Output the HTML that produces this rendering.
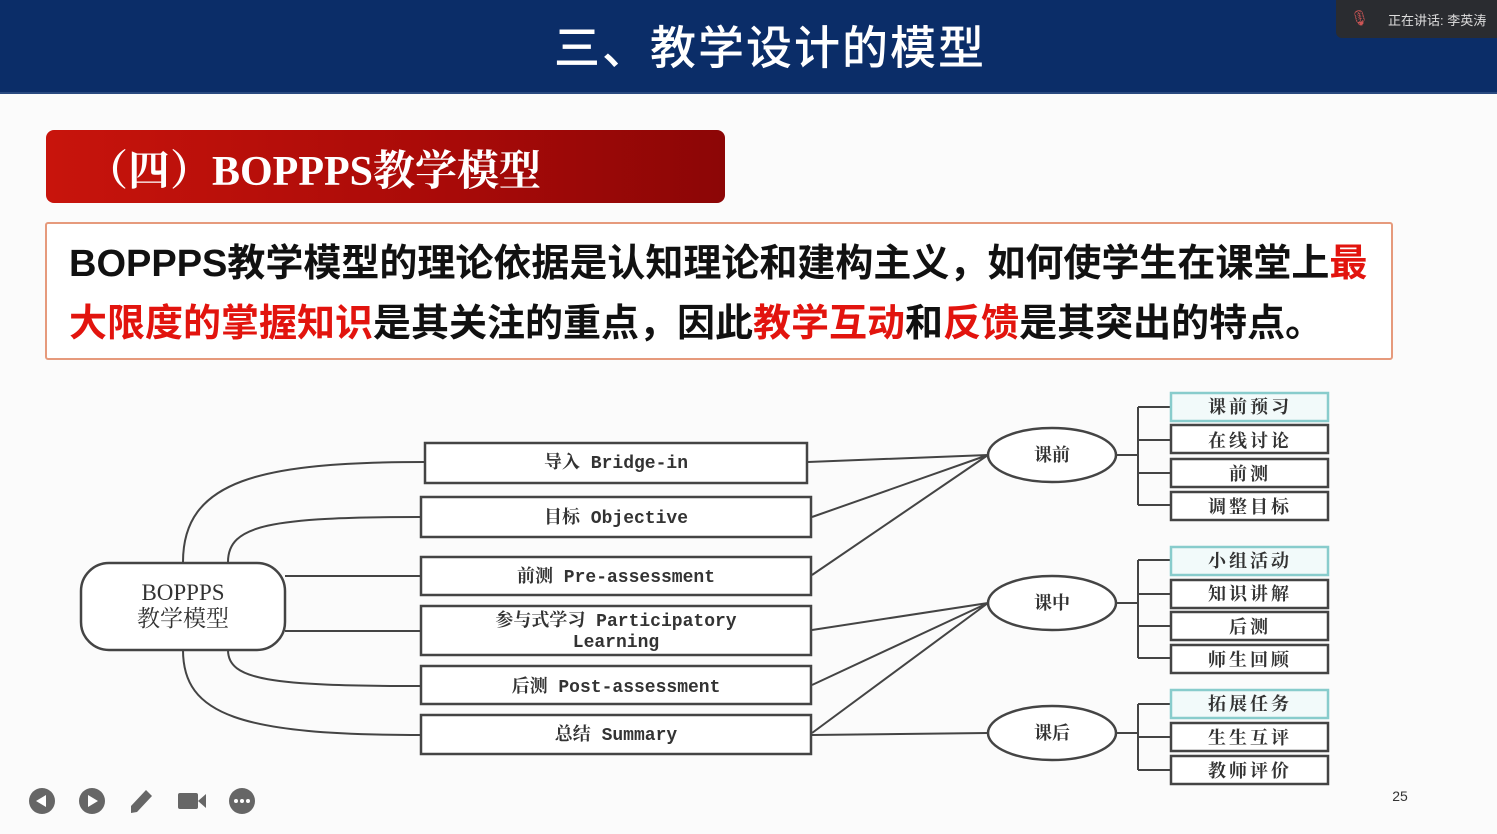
<!DOCTYPE html>
<html><head><meta charset="utf-8">
<style>
body{margin:0;width:1497px;height:834px;overflow:hidden;background:#fbfbfb;font-family:"Liberation Sans","Noto Sans CJK SC",sans-serif;position:relative}
.hdr{position:absolute;left:0;top:0;width:1497px;height:92px;background:#0b2d68;border-bottom:2px solid #2a4a80}
.hdr .t{position:absolute;left:0;width:1540px;top:12px;text-align:center;color:#fff;font-size:46px;font-weight:500;letter-spacing:2px;font-family:"Noto Sans CJK SC",sans-serif}
.spk{position:absolute;left:1336px;top:0;width:161px;height:38px;background:#2a2c30;border-radius:0 0 0 6px;color:#ddd;font-size:13px}
.red{position:absolute;left:46px;top:130px;width:679px;height:73px;background:linear-gradient(90deg,#c8140c,#a80a08 60%,#8c0606);border-radius:8px}
.red span{position:absolute;left:40px;top:8px;color:#fff;font-size:42px;font-weight:bold;font-family:"Liberation Serif","Noto Serif CJK SC",serif}
.box{position:absolute;left:45px;top:222px;width:1344px;height:134px;border:2px solid #e69a7c;border-radius:3px;background:#fff}
.box p{margin:0;position:absolute;left:22px;font-size:38px;font-weight:bold;color:#111;white-space:nowrap;font-family:"Liberation Sans","Noto Sans CJK SC",sans-serif}
.r{color:#e2140e}
svg text{font-family:"Liberation Mono","Noto Serif CJK SC",monospace;fill:#333;font-weight:bold}
</style></head><body>
<div class="hdr"><div class="t">三、教学设计的模型</div></div>
<div class="spk"><span style="position:absolute;left:14px;top:9px;color:#c55;font-size:15px">🎙</span><span style="position:absolute;left:52px;top:10px">正在讲话: 李英涛</span></div>
<div class="red"><span>（四）BOPPPS教学模型</span></div>
<div class="box">
<p style="top:8px">BOPPPS教学模型的理论依据是认知理论和建构主义，如何使学生在课堂上<span class="r">最</span></p>
<p style="top:68px"><span class="r">大限度的掌握知识</span>是其关注的重点，因此<span class="r">教学互动</span>和<span class="r">反馈</span>是其突出的特点。</p>
</div>
<svg width="1497" height="834" style="position:absolute;left:0;top:0" >
<g stroke="#444" stroke-width="2" fill="none">
<path d="M183,562 C183,480 260,462 425,462"/>
<path d="M228,562 C228,525 270,517 421,517"/>
<path d="M285,576 L421,576"/>
<path d="M285,631 L421,631"/>
<path d="M228,650 C228,680 270,686 421,686"/>
<path d="M183,650 C183,715 240,735 421,735"/>
<path d="M808,462 L988,455 M812,517 L988,455 M812,575 L988,455"/>
<path d="M812,630 L988,603 M812,685 L988,603 M812,733 L988,603 M812,735 L988,733"/>
<path d="M1116,455 H1138 M1138,407 V505 M1138,407 H1170 M1138,440 H1170 M1138,473 H1170 M1138,505 H1170"/>
<path d="M1116,603 H1138 M1138,560 V658 M1138,560 H1170 M1138,594 H1170 M1138,626 H1170 M1138,658 H1170"/>
<path d="M1116,733 H1138 M1138,704 V770 M1138,704 H1170 M1138,737 H1170 M1138,770 H1170"/>
</g>
<g stroke="#444" stroke-width="2.5" fill="#fff">
<rect x="81" y="563" width="204" height="87" rx="28"/>
<rect x="425" y="443" width="382" height="40"/>
<rect x="421" y="497" width="390" height="40"/>
<rect x="421" y="557" width="390" height="38"/>
<rect x="421" y="606" width="390" height="49"/>
<rect x="421" y="666" width="390" height="38"/>
<rect x="421" y="715" width="390" height="39"/>
<ellipse cx="1052" cy="455" rx="64" ry="27"/>
<ellipse cx="1052" cy="603" rx="64" ry="27"/>
<ellipse cx="1052" cy="733" rx="64" ry="27"/>
<rect x="1171" y="425" width="157" height="28"/>
<rect x="1171" y="459" width="157" height="28"/>
<rect x="1171" y="492" width="157" height="28"/>
<rect x="1171" y="580" width="157" height="28"/>
<rect x="1171" y="612" width="157" height="28"/>
<rect x="1171" y="645" width="157" height="28"/>
<rect x="1171" y="723" width="157" height="28"/>
<rect x="1171" y="756" width="157" height="28"/>
</g>
<g stroke="#8cc" stroke-width="2.5" fill="#f2fafa">
<rect x="1171" y="393" width="157" height="28"/>
<rect x="1171" y="547" width="157" height="28"/>
<rect x="1171" y="690" width="157" height="28"/>
</g>
<g font-size="18" text-anchor="middle">
<text x="183" y="600" font-family="Liberation Serif" style="font-weight:normal;font-family:'Liberation Serif'" font-size="23">BOPPPS</text>
<text x="183" y="626" font-size="23" style="font-weight:normal">教学模型</text>
<text x="616" y="468">导入 Bridge-in</text>
<text x="616" y="523">目标 Objective</text>
<text x="616" y="582">前测 Pre-assessment</text>
<text x="616" y="626">参与式学习 Participatory</text>
<text x="616" y="647">Learning</text>
<text x="616" y="692">后测 Post-assessment</text>
<text x="616" y="740">总结 Summary</text>
<text x="1052" y="461">课前</text>
<text x="1052" y="609">课中</text>
<text x="1052" y="739">课后</text>
<g letter-spacing="3">
<text x="1250" y="413">课前预习</text>
<text x="1250" y="447">在线讨论</text>
<text x="1250" y="480">前测</text>
<text x="1250" y="513">调整目标</text>
<text x="1250" y="567">小组活动</text>
<text x="1250" y="600">知识讲解</text>
<text x="1250" y="633">后测</text>
<text x="1250" y="666">师生回顾</text>
<text x="1250" y="710">拓展任务</text>
<text x="1250" y="744">生生互评</text>
<text x="1250" y="777">教师评价</text>
</g>
</g>
<g fill="#666">
<circle cx="42" cy="801" r="13"/><path d="M36,801 L46,795 V807Z" fill="#fff"/>
<circle cx="92" cy="801" r="13"/><path d="M98,801 L88,795 V807Z" fill="#fff"/>
<path d="M131,806 L146,790 L152,796 L137,812 L131,813Z"/>
<rect x="178" y="793" width="20" height="16" rx="2"/><path d="M198,801 L206,794 V808Z"/>
<circle cx="242" cy="801" r="13"/>
<circle cx="236" cy="801" r="2" fill="#fff"/><circle cx="242" cy="801" r="2" fill="#fff"/><circle cx="248" cy="801" r="2" fill="#fff"/>
</g>
<text x="1400" y="801" font-size="14" fill="#444" style="font-weight:normal;font-family:'Liberation Sans'" text-anchor="middle">25</text>
</svg>
</body></html>
